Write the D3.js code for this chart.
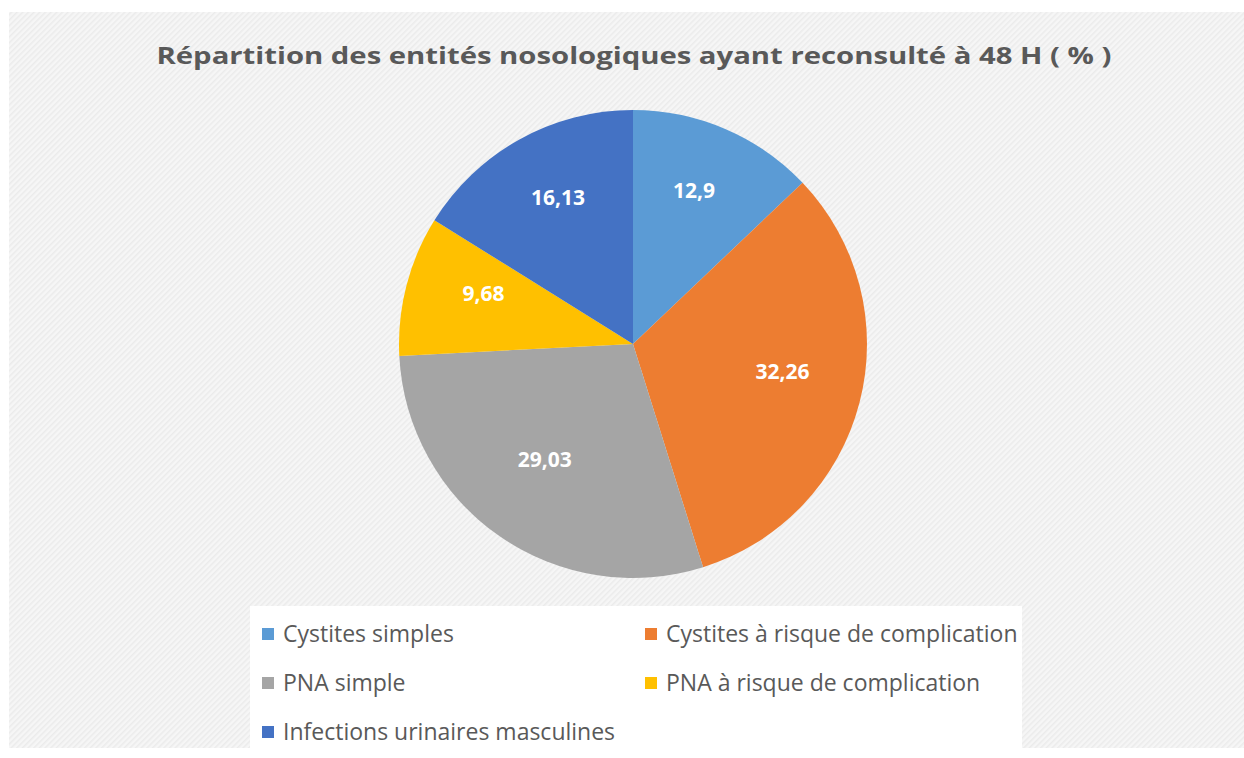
<!DOCTYPE html>
<html><head><meta charset="utf-8">
<script src="https://cdn.jsdelivr.net/npm/d3@7"></script>
<style>body{margin:0;background:#fff;}svg{display:block;}</style>
</head><body>
<svg id="chart" width="1244" height="758"></svg>
<script>
const title = "Répartition des entités nosologiques ayant reconsulté à 48 H ( % )";
const categories = ["Cystites simples","Cystites à risque de complication","PNA simple","PNA à risque de complication","Infections urinaires masculines"];
const values = [12.9, 32.26, 29.03, 9.68, 16.13];
const labels = ["12,9","32,26","29,03","9,68","16,13"];
const colors = ["#5B9BD5","#ED7D31","#A5A5A5","#FFC000","#4472C4"];

const svg = d3.select("#chart");
const W = 1244, H = 758;
const defs = svg.append("defs");
const pat = defs.append("pattern").attr("id","hatch").attr("patternUnits","userSpaceOnUse")
  .attr("width",4).attr("height",4).attr("patternTransform","rotate(45)");
pat.append("rect").attr("width",4).attr("height",4).attr("fill","#f6f6f6");
pat.append("rect").attr("width",1.5).attr("height",4).attr("fill","#ebebeb");

svg.append("rect").attr("x",9).attr("y",12).attr("width",W-9).attr("height",736).attr("fill","url(#hatch)");

svg.append("text").attr("x",634).attr("y",64).attr("text-anchor","middle")
  .attr("font-family","'Open Sans', sans-serif").attr("font-weight","bold").attr("font-size",24)
  .attr("fill","#595959").attr("textLength",955).attr("lengthAdjust","spacingAndGlyphs").text(title);

const cx = 633, cy = 344, R = 234;
const pie = d3.pie().sort(null).value(d => d)(values);
const arc = d3.arc().innerRadius(0).outerRadius(R);
const labelArc = d3.arc().innerRadius(R*0.66).outerRadius(R*0.66);
const g = svg.append("g").attr("transform",`translate(${cx},${cy})`);
g.selectAll("path").data(pie).join("path").attr("d",arc).attr("fill",(d,i)=>colors[i]);
g.selectAll("text").data(pie).join("text")
  .attr("transform",d=>`translate(${labelArc.centroid(d)})`)
  .attr("text-anchor","middle").attr("dy","-0.2em")
  .attr("font-family","'Open Sans', sans-serif").attr("font-weight","bold").attr("font-size",21)
  .attr("fill","#fff").text((d,i)=>labels[i]);

// legend
svg.append("rect").attr("x",250).attr("y",606).attr("width",772).attr("height",142).attr("fill","#fff");
const cols = [262, 645], rows = [634, 683, 732];
const lg = svg.append("g").selectAll("g").data(categories).join("g")
  .attr("transform",(d,i)=>`translate(${cols[i%2]},${rows[Math.floor(i/2)]})`);
lg.append("rect").attr("x",0).attr("y",-6).attr("width",12).attr("height",12).attr("fill",(d,i)=>colors[i]);
lg.append("text").attr("x",21).attr("y",0).attr("dy","0.35em")
  .attr("font-family","'Open Sans', sans-serif").attr("font-size",23).attr("fill","#595959").text(d=>d);
</script>
</body></html>
